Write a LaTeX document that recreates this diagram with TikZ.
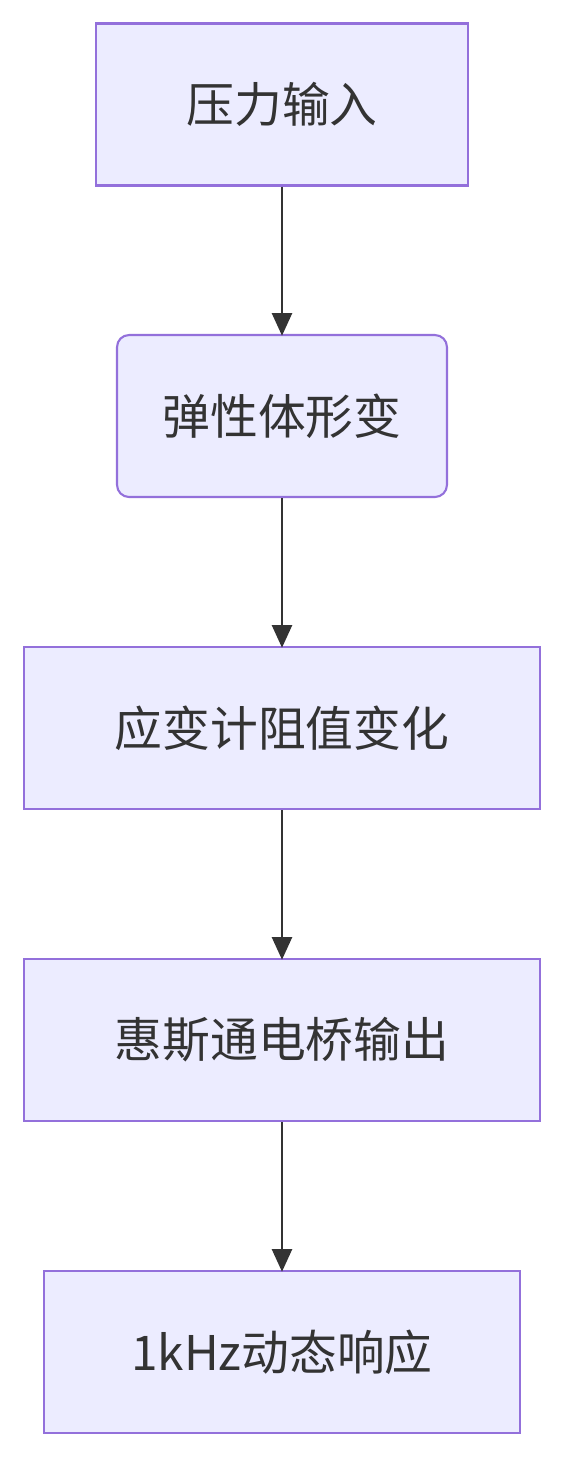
\documentclass[tikz,border=0pt]{standalone}
\usepackage{fontspec}
\newfontfamily\cjk{Noto Sans CJK SC}
\usepackage{tikz}
\usetikzlibrary{arrows.meta}
\usetikzlibrary{positioning}

\definecolor{boxfill}{HTML}{ECECFF}
\definecolor{boxline}{HTML}{9370DB}
\definecolor{inkgrey}{HTML}{333333}

\tikzset{stage/.style = {draw = boxline, fill = boxfill, line width = 1.2pt,
                         minimum height = 3.24cm, inner sep = 0pt,
                         text = inkgrey, font = \cjk\fontsize{27.2pt}{32pt}\selectfont},
         flow/.style = {draw = inkgrey, line width = 1.2pt, shorten > = -1pt,
                        -{Triangle[length = 0.45cm, width = 0.4cm]}}}

\begin{document}
\begin{tikzpicture}[x = 0.02cm, y = -0.02cm]
            % Page frame, pixel units with y going down:
            \useasboundingbox (0,0) rectangle (564,1458);

            % Draw the stages of the signal chain:
            \node [stage, minimum width = 7.44cm] (press) at (282,104.5) {压力输入};
            \node [stage, minimum width = 6.6cm, rounded corners = 0.24cm] (deform) at (282,416) {弹性体形变};
            \node [stage, minimum width = 10.32cm] (gauge) at (282,728) {应变计阻值变化};
            \node [stage, minimum width = 10.32cm] (bridge) at (282,1040) {惠斯通电桥输出};
            \node [stage, minimum width = 9.52cm] (resp) at (282,1352) {1kHz动态响应};

            % Draw the arrows between the stages:
            \foreach \from/\to in {press/deform, deform/gauge, gauge/bridge, bridge/resp}
                \draw [flow] (\from) -- (\to);
        \end{tikzpicture}
\end{document}
